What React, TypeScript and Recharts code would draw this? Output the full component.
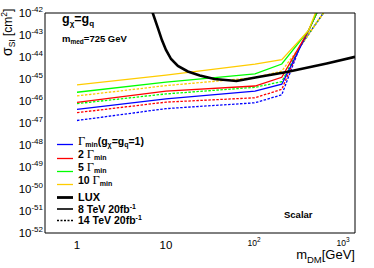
import React from 'react';
import { LineChart, Line, XAxis, YAxis } from 'recharts';

// mass points (GeV) of the collider curves
const massSolid = [1, 10, 100, 200, 400, 500];
const massDashed = [1, 10, 100, 200, 320, 700];

// 8 TeV 20fb-1 (solid)
const gMin8 = [4.2e-47, 1.26e-46, 2.8e-46, 5.8e-46, 1.6e-43, 1.1e-42];
const g2x8 = [8.7e-47, 2.8e-46, 4.8e-46, 1.2e-45, 1.6e-43, 1.1e-42];
const g5x8 = [2.5e-46, 7.2e-46, 1.7e-45, 4.8e-45, 1.6e-43, 1.1e-42];
const g10x8 = [5.4e-46, 1.5e-45, 4.7e-45, 7.6e-45, 1.6e-43, 1.6e-42];

// 14 TeV 20fb-1 (dotted)
const gMin14 = [1.3e-47, 4.5e-47, 8.3e-47, 1.9e-46, 2.95e-44, 2.8e-42];
const g2x14 = [2.95e-47, 8.9e-47, 1.4e-46, 3.4e-46, 2.95e-44, 2.8e-42];
const g5x14 = [7.6e-47, 2.1e-46, 4.2e-46, 7.6e-46, 2.95e-44, 2.8e-42];
const g10x14 = [1.7e-46, 5.0e-46, 1.15e-45, 2.3e-45, 2.95e-44, 2.8e-42];

// LUX limit
const luxMass = [6.8, 7.1, 8.1, 9.0, 10, 11.4, 13.6, 17.6, 24, 35, 62, 105, 228, 640, 1330];
const luxSigma = [
  1.9e-42, 1.0e-42, 2.1e-43, 5.9e-44, 2.1e-44, 8.1e-45, 3.9e-45, 2.2e-45, 1.45e-45, 1.0e-45,
  8.1e-46, 1.2e-45, 2.1e-45, 5.1e-45, 1.02e-44,
];

// axes
const xDomain = [0.437, 1330];
const yDomain = [1e-52, 1e-42];
const xMajor = [1, 10, 100, 1000];
const yMajor = [1e-52, 1e-51, 1e-50, 1e-49, 1e-48, 1e-47, 1e-46, 1e-45, 1e-44, 1e-43, 1e-42];
const minorSteps = [2, 3, 4, 5, 6, 7, 8, 9];
const xMinor = [0.1, 1, 10, 100]
  .flatMap((d) => minorSteps.map((k) => k * d))
  .filter((v) => v > xDomain[0] && v < xDomain[1]);
const yMinor = yMajor.slice(0, -1).flatMap((d) => minorSteps.map((k) => k * d));

const FONT = '"Liberation Sans", Arial, Helvetica, sans-serif';
const SERIF = '"Liberation Serif", "Times New Roman", serif';

const BLUE = '#0000ff';
const RED = '#ff0000';
const GREEN = '#00ff00';
const YELLOW = '#ffcc00';

const toRows = (ms: number[], ss: number[]) => ms.map((m, i) => ({ m, s: ss[i] }));

const solidSeries = [
  { key: 'min8', data: toRows(massSolid, gMin8), color: BLUE },
  { key: 'g2x8', data: toRows(massSolid, g2x8), color: RED },
  { key: 'g5x8', data: toRows(massSolid, g5x8), color: GREEN },
  { key: 'g10x8', data: toRows(massSolid, g10x8), color: YELLOW },
];
const dashedSeries = [
  { key: 'min14', data: toRows(massDashed, gMin14), color: BLUE },
  { key: 'g2x14', data: toRows(massDashed, g2x14), color: RED },
  { key: 'g5x14', data: toRows(massDashed, g5x14), color: GREEN },
  { key: 'g10x14', data: toRows(massDashed, g10x14), color: YELLOW },
];
const luxData = toRows(luxMass, luxSigma);

function XLabel({ x, y, payload }: any) {
  const v = payload.value;
  if (v < 100) {
    return (
      <text x={x} y={y + 16} textAnchor="middle" fontFamily={FONT} fontSize={11.5} fill="#000">
        {String(v)}
      </text>
    );
  }
  const e = Math.round(Math.log10(v));
  return (
    <text x={x - 1} y={y + 13} textAnchor="middle" fontFamily={FONT} fontSize={8.5} fill="#000">
      10<tspan fontSize={6.5} dy={-4}>{e}</tspan>
    </text>
  );
}

function YLabel({ x, y, payload }: any) {
  const e = Math.round(Math.log10(payload.value));
  return (
    <text x={x - 2} y={y + 4} textAnchor="end" fontFamily={FONT} fontSize={11.5} fill="#000">
      10<tspan fontSize={8} dy={-5}>{e}</tspan>
    </text>
  );
}

const legendRows = [
  { y: 144.5, color: BLUE, width: 1.3, dash: undefined },
  { y: 158.5, color: RED, width: 1.3, dash: undefined },
  { y: 171.5, color: GREEN, width: 1.3, dash: undefined },
  { y: 184.5, color: YELLOW, width: 1.3, dash: undefined },
  { y: 197.5, color: '#000', width: 2.8, dash: undefined },
  { y: 209, color: '#000', width: 1.6, dash: undefined },
  { y: 220.5, color: '#000', width: 1.4, dash: '2 1.5' },
];

function Overlay() {
  const b = { fontFamily: FONT, fontWeight: 'bold' as const, fill: '#000' };
  return (
    <svg
      width={374}
      height={268}
      style={{ position: 'absolute', left: 0, top: 0, pointerEvents: 'none' }}
    >
      {/* axis titles */}
      <text transform="translate(12,56) rotate(-90)" fontFamily={FONT} fontSize={12}>
        <tspan fontSize={14}>σ</tspan>
        <tspan fontSize={8.5} dy={3}>SI</tspan>
        <tspan dy={-3}> [cm</tspan>
        <tspan fontSize={8.5} dy={-5}>2</tspan>
        <tspan dy={5}>]</tspan>
      </text>
      <text x={355} y={258.5} textAnchor="end" fontFamily={FONT} fontSize={13}>
        m<tspan fontSize={9.5} dy={4.5}>DM</tspan>
        <tspan dy={-4.5}>[GeV]</tspan>
      </text>

      {/* annotations */}
      <text x={62} y={23} fontSize={12.5} {...b}>
        g<tspan fontSize={8} dy={3}>χ</tspan>
        <tspan dy={-3}>=g</tspan>
        <tspan fontSize={8} dy={3}>q</tspan>
      </text>
      <text x={62} y={42} fontSize={9.5} {...b}>
        m<tspan fontSize={6.5} dy={2}>med</tspan>
        <tspan dy={-2}>=725 GeV</tspan>
      </text>
      <text x={284} y={218} fontSize={9.5} {...b}>
        Scalar
      </text>

      {/* legend */}
      {legendRows.map((r, i) => (
        <line
          key={i}
          x1={57}
          x2={73}
          y1={r.y}
          y2={r.y}
          stroke={r.color}
          strokeWidth={r.width}
          strokeDasharray={r.dash}
        />
      ))}
      <text x={78} y={144.5} fontSize={10.5} {...b}>
        <tspan fontFamily={SERIF} fontWeight="normal" fontSize={12.5}>Γ</tspan>
        <tspan fontSize={7} dy={2}>min</tspan>
        <tspan dy={-2}>(g</tspan>
        <tspan fontSize={7} dy={2}>χ</tspan>
        <tspan dy={-2}>=g</tspan>
        <tspan fontSize={7} dy={2}>q</tspan>
        <tspan dy={-2}>=1)</tspan>
      </text>
      {[
        { y: 158, n: '2' },
        { y: 171, n: '5' },
        { y: 184, n: '10' },
      ].map((r) => (
        <text key={r.n} x={78} y={r.y} fontSize={10.5} {...b}>
          {r.n + ' '}
          <tspan fontFamily={SERIF} fontWeight="normal" fontSize={12.5}>Γ</tspan>
          <tspan fontSize={7} dy={2}>min</tspan>
        </text>
      ))}
      <text x={78} y={201} fontSize={11} {...b}>
        LUX
      </text>
      <text x={78} y={212.5} fontSize={10.5} {...b}>
        8 TeV  20fb<tspan fontSize={7} dy={-4}>-1</tspan>
      </text>
      <text x={78} y={224} fontSize={10.5} {...b}>
        14 TeV 20fb<tspan fontSize={7} dy={-4}>-1</tspan>
      </text>
    </svg>
  );
}

export default function App() {
  const logX = { type: 'number' as const, scale: 'log' as const, domain: xDomain, allowDataOverflow: true };
  const logY = { type: 'number' as const, scale: 'log' as const, domain: yDomain, allowDataOverflow: true };
  return (
    <div style={{ position: 'absolute', left: 0, top: 0, width: 374, height: 268, background: '#fff' }}>
      <LineChart width={374} height={268} margin={{ top: 13, right: 19, bottom: 0, left: 0 }}>
        <XAxis
          xAxisId="m"
          dataKey="m"
          {...logX}
          ticks={xMajor}
          interval={0}
          tick={<XLabel />}
          tickLine={false}
          tickSize={0}
          tickMargin={0}
          height={35}
          axisLine={{ stroke: '#000', strokeWidth: 1 }}
        />
        <XAxis xAxisId="bMaj" {...logX} orientation="bottom" mirror ticks={xMajor} interval={0} tick={false} tickSize={6} axisLine={false} tickLine={{ stroke: '#000' }} />
        <XAxis xAxisId="bMin" {...logX} orientation="bottom" mirror ticks={xMinor} interval={0} tick={false} tickSize={3} axisLine={false} tickLine={{ stroke: '#000' }} />
        <XAxis xAxisId="tMaj" {...logX} orientation="top" mirror ticks={xMajor} interval={0} tick={false} tickSize={6} axisLine={{ stroke: '#000' }} tickLine={{ stroke: '#000' }} />
        <XAxis xAxisId="tMin" {...logX} orientation="top" mirror ticks={xMinor} interval={0} tick={false} tickSize={3} axisLine={false} tickLine={{ stroke: '#000' }} />

        <YAxis
          yAxisId="s"
          {...logY}
          ticks={yMajor}
          interval={0}
          tick={<YLabel />}
          tickLine={false}
          tickSize={0}
          tickMargin={0}
          width={45}
          axisLine={{ stroke: '#000', strokeWidth: 1 }}
        />
        <YAxis yAxisId="lMaj" {...logY} orientation="left" mirror ticks={yMajor} interval={0} tick={false} tickSize={10} axisLine={false} tickLine={{ stroke: '#000' }} />
        <YAxis yAxisId="lMin" {...logY} orientation="left" mirror ticks={yMinor} interval={0} tick={false} tickSize={5} axisLine={false} tickLine={{ stroke: '#000' }} />
        <YAxis yAxisId="rMaj" {...logY} orientation="right" mirror ticks={yMajor} interval={0} tick={false} tickSize={10} axisLine={{ stroke: '#000' }} tickLine={{ stroke: '#000' }} />
        <YAxis yAxisId="rMin" {...logY} orientation="right" mirror ticks={yMinor} interval={0} tick={false} tickSize={5} axisLine={false} tickLine={{ stroke: '#000' }} />

        {dashedSeries.map((s) => (
          <Line
            key={s.key}
            xAxisId="m"
            yAxisId="s"
            data={s.data}
            dataKey="s"
            stroke={s.color}
            strokeWidth={1.3}
            strokeDasharray="2.5 1.5"
            dot={false}
            isAnimationActive={false}
          />
        ))}
        {solidSeries.map((s) => (
          <Line
            key={s.key}
            xAxisId="m"
            yAxisId="s"
            data={s.data}
            dataKey="s"
            stroke={s.color}
            strokeWidth={1.3}
            dot={false}
            isAnimationActive={false}
          />
        ))}
        <Line
          xAxisId="m"
          yAxisId="s"
          data={luxData}
          dataKey="s"
          stroke="#000"
          strokeWidth={2.6}
          dot={false}
          isAnimationActive={false}
        />
      </LineChart>
      <Overlay />
    </div>
  );
}
